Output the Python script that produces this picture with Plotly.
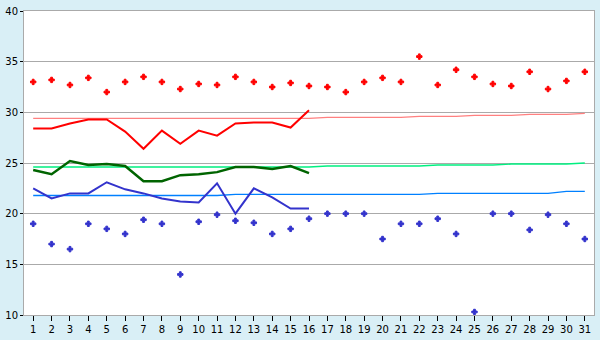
import plotly.graph_objects as go

days = list(range(1, 32))
day_labels = [str(d) for d in days]

max_points = [33.0, 33.2, 32.7, 33.4, 32.0, 33.0, 33.5, 33.0, 32.3, 32.8,
              32.7, 33.5, 33.0, 32.5, 32.9, 32.6, 32.5, 32.0, 33.0, 33.4,
              33.0, 35.5, 32.7, 34.2, 33.5, 32.8, 32.6, 34.0, 32.3, 33.1, 34.0]
min_points = [19.0, 17.0, 16.5, 19.0, 18.5, 18.0, 19.4, 19.0, 14.0, 19.2,
              19.9, 19.3, 19.1, 18.0, 18.5, 19.5, 20.0, 20.0, 20.0, 17.5,
              19.0, 19.0, 19.5, 18.0, 10.3, 20.0, 20.0, 18.4, 19.9, 19.0, 17.5]

line_days = list(range(1, 17))
max_line = [28.4, 28.4, 28.9, 29.3, 29.3, 28.1, 26.4, 28.2, 26.9, 28.2,
            27.7, 28.9, 29.0, 29.0, 28.5, 30.2]
mean_line = [24.3, 23.9, 25.2, 24.8, 24.9, 24.7, 23.2, 23.2, 23.8, 23.9,
             24.1, 24.6, 24.6, 24.4, 24.7, 24.0]
min_line = [22.5, 21.5, 22.0, 22.0, 23.1, 22.4, 22.0, 21.5, 21.2, 21.1,
            23.0, 20.0, 22.5, 21.6, 20.5, 20.5]

max_normal = [29.4] * 16 + [29.5] * 5 + [29.6] * 3 + [29.7] * 3 + [29.8] * 3 + [29.9]
mean_normal = [24.6] * 16 + [24.7] * 6 + [24.8] * 4 + [24.9] * 4 + [25.0]
min_normal = [21.8] * 11 + [21.9] * 11 + [22.0] * 7 + [22.2, 22.2]

y_ticks = [10, 15, 20, 25, 30, 35, 40]

fig = go.Figure()

fig.add_trace(go.Scatter(x=days, y=max_normal, mode="lines",
                         line=dict(color="#ff8080", width=1.3)))
fig.add_trace(go.Scatter(x=days, y=mean_normal, mode="lines",
                         line=dict(color="#00f080", width=1.4)))
fig.add_trace(go.Scatter(x=days, y=min_normal, mode="lines",
                         line=dict(color="#0080ff", width=1.4)))

fig.add_trace(go.Scatter(x=line_days, y=max_line, mode="lines",
                         line=dict(color="#ff0000", width=2)))
fig.add_trace(go.Scatter(x=line_days, y=mean_line, mode="lines",
                         line=dict(color="#006400", width=2.5)))
fig.add_trace(go.Scatter(x=line_days, y=min_line, mode="lines",
                         line=dict(color="#3333cc", width=2)))

fig.add_trace(go.Scatter(x=days, y=max_points, mode="markers",
                         marker=dict(symbol="cross", size=4.5, color="#ff0000",
                                     line=dict(width=1, color="#ff0000"))))
fig.add_trace(go.Scatter(x=days, y=min_points, mode="markers",
                         marker=dict(symbol="cross", size=4.5, color="#3333cc",
                                     line=dict(width=1, color="#3333cc"))))

fig.update_layout(
    width=600, height=340,
    margin=dict(l=20, r=5, t=5, b=20),
    paper_bgcolor="#d9eff6",
    plot_bgcolor="#ffffff",
    showlegend=False,
    font=dict(family="DejaVu Sans", size=10, color="#000000"),
)
fig.update_xaxes(
    range=[0.5, 31.5], tickmode="array", tickvals=days, ticktext=day_labels,
    showgrid=False, zeroline=False,
    showline=True, linecolor="#aaaaaa", linewidth=1, mirror=True,
    ticks="outside", ticklen=5, tickcolor="#000000", tickwidth=1,
)
fig.update_yaxes(
    range=[10, 40], tickmode="array", tickvals=y_ticks,
    showgrid=True, gridcolor="#aaaaaa", gridwidth=1, zeroline=False,
    showline=True, linecolor="#aaaaaa", linewidth=1, mirror=True,
    ticks="outside", ticklen=3, tickcolor="#000000", tickwidth=1,
)

fig.write_html("out.html")
